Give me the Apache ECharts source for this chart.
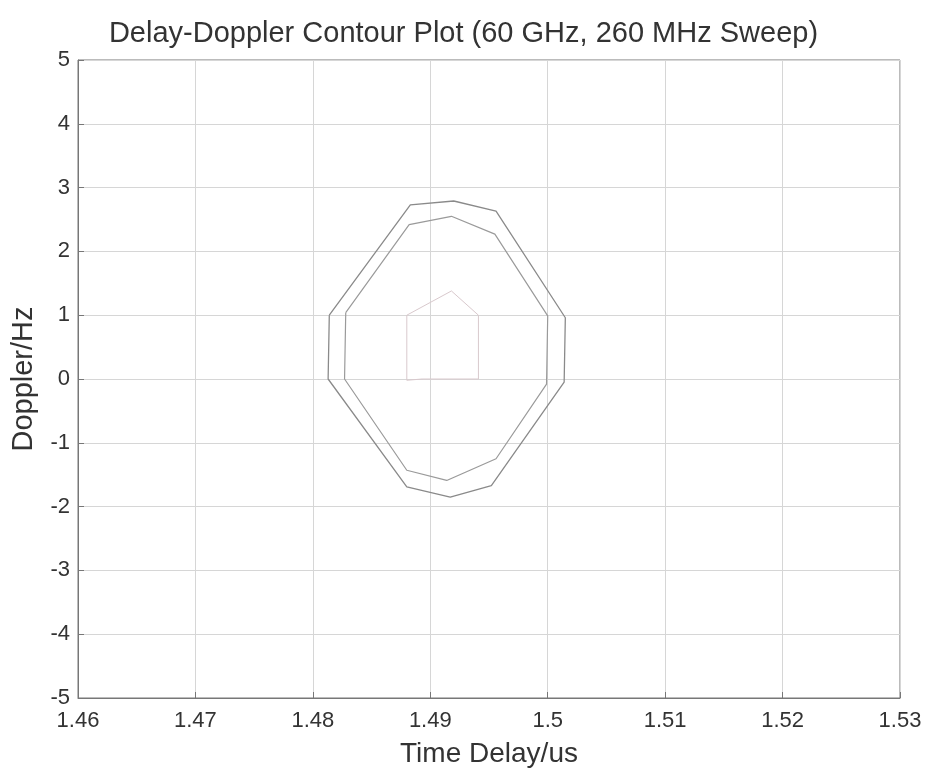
<!DOCTYPE html>
<html>
<head>
<meta charset="utf-8">
<script src="https://cdn.jsdelivr.net/npm/echarts@6/dist/echarts.min.js"></script>
<style>
  html, body { margin: 0; padding: 0; background: #fff; }
  #chart { width: 927px; height: 779px; }
</style>
</head>
<body>
<div id="chart"></div>
<script>
var xTicks = [1.46, 1.47, 1.48, 1.49, 1.5, 1.51, 1.52, 1.53];
var yTicks = [-5, -4, -3, -2, -1, 0, 1, 2, 3, 4, 5];

// contour levels, outer to inner
var outerDelay   = [1.4814, 1.4883, 1.4920, 1.4956, 1.5015, 1.5014, 1.4952, 1.4917, 1.4880, 1.4813, 1.4814];
var outerDoppler = [1.00,   2.73,   2.79,   2.63,   0.96,  -0.05,  -1.67,  -1.85,  -1.69,   0.00,   1.00];

var midDelay   = [1.4828, 1.4882, 1.4918, 1.4955, 1.5000, 1.4999, 1.4956, 1.4914, 1.4880, 1.4827, 1.4828];
var midDoppler = [1.04,   2.42,   2.55,   2.27,   0.99,  -0.08,  -1.25,  -1.59,  -1.43,   0.00,   1.04];

var innerDelay   = [1.4880, 1.4918, 1.4941, 1.4941, 1.4893, 1.4880, 1.4880];
var innerDoppler = [1.00,   1.38,   1.00,   0.00,   0.00,  -0.02,   1.00];

function pairs(xs, ys) {
  var out = [];
  for (var i = 0; i < xs.length; i++) {
    out.push([xs[i], ys[i]]);
  }
  return out;
}

var chart = echarts.init(document.getElementById('chart'));
var font = 'Liberation Sans, Arial, sans-serif';

var option = {
  backgroundColor: '#ffffff',
  animation: false,
  title: {
    text: 'Delay-Doppler Contour Plot (60 GHz, 260 MHz Sweep)',
    left: 'center',
    top: 14,
    textStyle: { fontFamily: font, fontSize: 29, fontWeight: 'normal', color: '#333' }
  },
  grid: {
    left: 78,
    right: 27,
    top: 60,
    bottom: 81,
    show: true,
    borderColor: '#777',
    borderWidth: 1
  },
  xAxis: {
    type: 'value',
    min: 1.46,
    max: 1.53,
    interval: 0.01,
    name: 'Time Delay/us',
    nameLocation: 'middle',
    nameGap: 42,
    nameTextStyle: { fontFamily: font, fontSize: 28, color: '#333' },
    axisLine: { show: true, onZero: false, lineStyle: { color: '#777' } },
    axisTick: { show: true, inside: true, length: 6, lineStyle: { color: '#777' } },
    axisLabel: {
      fontFamily: font, fontSize: 22, color: '#333', margin: 12,
      formatter: function (v) { return String(+v.toFixed(2)); }
    },
    splitLine: { show: true, lineStyle: { color: '#d6d6d6', width: 1 } }
  },
  yAxis: {
    type: 'value',
    min: -5,
    max: 5,
    interval: 1,
    name: 'Doppler/Hz',
    nameLocation: 'middle',
    nameGap: 40,
    nameTextStyle: { fontFamily: font, fontSize: 29, color: '#333' },
    axisLine: { show: true, onZero: false, lineStyle: { color: '#777' } },
    axisTick: { show: true, inside: true, length: 6, lineStyle: { color: '#777' } },
    axisLabel: { fontFamily: font, fontSize: 22, color: '#333', margin: 8 },
    splitLine: { show: true, lineStyle: { color: '#d6d6d6', width: 1 } }
  },
  series: [
    {
      type: 'line',
      data: pairs(outerDelay, outerDoppler),
      symbol: 'none',
      lineStyle: { color: '#8a8a8a', width: 1.3 }
    },
    {
      type: 'line',
      data: pairs(midDelay, midDoppler),
      symbol: 'none',
      lineStyle: { color: '#9a9a9a', width: 1.2 }
    },
    {
      type: 'line',
      data: pairs(innerDelay, innerDoppler),
      symbol: 'none',
      lineStyle: { color: '#d9c9cd', width: 1 }
    }
  ]
};

chart.setOption(option);
</script>
</body>
</html>
